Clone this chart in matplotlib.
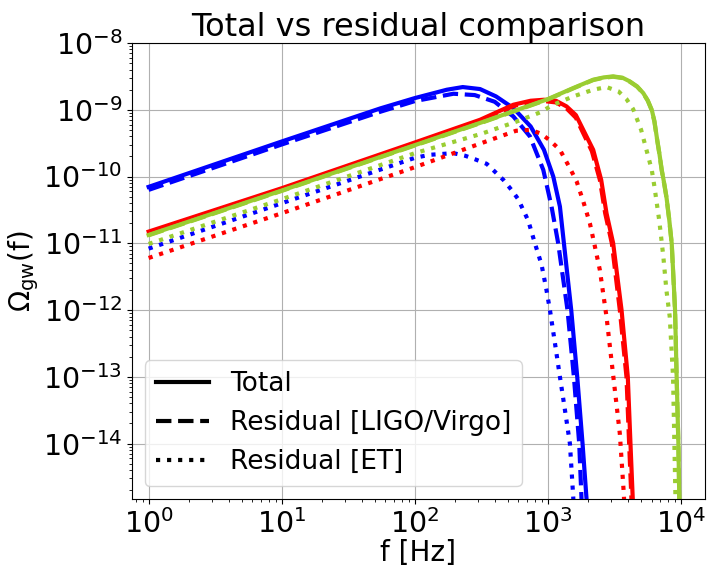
import matplotlib
matplotlib.use("Agg")
import matplotlib.pyplot as plt
import numpy as np

# values, stored as log10(f [Hz]) and log10(Omega_gw)
blue_tot_f = [0, 1, 1.74, 2.0, 2.24, 2.36, 2.49, 2.61, 2.74, 2.87, 2.97, 3.04, 3.09, 3.12, 3.175, 3.22, 3.26, 3.29, 3.30]
blue_tot_o = [-10.155, -9.475, -8.98, -8.825, -8.70, -8.66, -8.69, -8.80, -8.975, -9.25, -9.60, -10.0, -10.45, -11.0, -12.0, -13.0, -14.0, -14.83, -15.3]

blue_lv_f = [0, 1, 1.74, 2.0, 2.29, 2.45, 2.60, 2.74, 2.865, 2.965, 3.027, 3.077, 3.147, 3.195, 3.235, 3.26]
blue_lv_o = [-10.20, -9.52, -9.03, -8.87, -8.76, -8.78, -8.88, -9.10, -9.40, -9.90, -10.45, -11.0, -12.0, -13.0, -14.0, -15.2]

blue_et_f = [0, 1, 2, 2.11, 2.29, 2.38, 2.45, 2.54, 2.60, 2.665, 2.726, 2.777, 2.814, 2.852, 2.902, 2.952, 2.989, 3.015, 3.053, 3.09, 3.128, 3.165, 3.19, 3.20]
blue_et_o = [-11.08, -10.40, -9.72, -9.675, -9.65, -9.69, -9.74, -9.81, -9.925, -10.05, -10.2, -10.34, -10.5, -10.66, -11.0, -11.32, -11.70, -12.0, -12.5, -13.0, -13.5, -14.0, -14.8, -15.2]

red_tot_f = [0, 1, 2, 2.49, 2.74, 2.87, 2.97, 3.06, 3.14, 3.21, 3.265, 3.34, 3.40, 3.44, 3.49, 3.553, 3.60, 3.62, 3.645]
red_tot_o = [-10.825, -10.175, -9.49, -9.15, -8.925, -8.865, -8.85, -8.865, -8.95, -9.08, -9.30, -9.60, -10.05, -10.55, -11.0, -12.0, -13.0, -14.0, -15.2]

red_lv_f = [0, 1, 2, 2.49, 2.74, 2.87, 2.97, 3.06, 3.14, 3.21, 3.26, 3.33, 3.39, 3.43, 3.48, 3.54, 3.59, 3.61, 3.635]
red_lv_o = [-10.84, -10.19, -9.51, -9.17, -8.945, -8.885, -8.87, -8.89, -8.98, -9.12, -9.33, -9.62, -10.05, -10.55, -11.0, -12.0, -13.0, -14.0, -15.2]

red_et_f = [0, 1, 2, 2.5, 2.76, 2.87, 2.95, 3.015, 3.09, 3.165, 3.215, 3.265, 3.315, 3.353, 3.39, 3.44, 3.50, 3.54, 3.57, 3.58]
red_et_o = [-11.22, -10.55, -9.86, -9.50, -9.315, -9.30, -9.36, -9.46, -9.60, -9.875, -10.07, -10.37, -10.70, -11.05, -11.40, -12.1, -13.15, -13.85, -14.75, -15.2]

green_tot_f = [0, 1, 2, 2.5, 3.0, 3.19, 3.34, 3.42, 3.49, 3.56, 3.615, 3.67, 3.716, 3.75, 3.78, 3.80, 3.817, 3.837, 3.855, 3.875, 3.89, 3.91, 3.93, 3.955, 3.967, 3.98, 3.99]
green_tot_o = [-10.875, -10.21, -9.53, -9.19, -8.84, -8.675, -8.55, -8.515, -8.50, -8.52, -8.575, -8.65, -8.75, -8.86, -9.0, -9.17, -9.40, -9.65, -9.90, -10.12, -10.30, -10.62, -11.0, -12.0, -13.0, -14.0, -15.2]

green_lv_f = [0, 1, 2, 2.5, 3.0, 3.19, 3.34, 3.42, 3.49, 3.56, 3.615, 3.67, 3.716, 3.75, 3.78, 3.80, 3.817, 3.837, 3.855, 3.875, 3.89, 3.91, 3.93, 3.955, 3.967, 3.98, 3.99]
green_lv_o = [-10.88, -10.215, -9.535, -9.195, -8.845, -8.68, -8.555, -8.52, -8.505, -8.525, -8.58, -8.655, -8.755, -8.865, -9.01, -9.18, -9.41, -9.66, -9.91, -10.13, -10.31, -10.63, -11.01, -12.01, -13.01, -14.01, -15.2]

green_et_f = [0, 1, 2, 2.5, 2.76, 2.94, 3.04, 3.19, 3.34, 3.44, 3.53, 3.59, 3.64, 3.70, 3.74, 3.78, 3.80, 3.837, 3.867, 3.89, 3.915, 3.94, 3.95, 3.96]
green_et_o = [-11.01, -10.34, -9.65, -9.36, -9.18, -9.04, -8.925, -8.80, -8.70, -8.66, -8.725, -8.84, -8.99, -9.30, -9.60, -9.90, -10.15, -10.67, -11.2, -11.7, -12.1, -13.0, -14.0, -15.0]

curves = [
    ("blue", blue_tot_f, blue_tot_o, blue_lv_f, blue_lv_o, blue_et_f, blue_et_o),
    ("red", red_tot_f, red_tot_o, red_lv_f, red_lv_o, red_et_f, red_et_o),
    ("yellowgreen", green_tot_f, green_tot_o, green_lv_f, green_lv_o, green_et_f, green_et_o),
]

fig = plt.figure(figsize=(7.08, 5.70), dpi=100)
ax = fig.add_axes([132/708, 1 - 499/570, (705 - 132)/708, (499 - 43)/570])

for c, tf, to, lf, lo, ef, eo in curves:
    ax.plot(10**np.array(tf), 10**np.array(to), color=c, ls='-', lw=3)
    ax.plot(10**np.array(lf), 10**np.array(lo), color=c, ls='--', lw=3)
    ax.plot(10**np.array(ef), 10**np.array(eo), color=c, ls=':', lw=3)

ax.set_xscale('log')
ax.set_yscale('log')
ax.set_xlim(10**-0.125, 10**4.18)
ax.set_ylim(10**-14.83, 1e-8)
ax.grid(True)

# legend with black handles
ax.plot([], [], 'k-', lw=3, label='Total')
ax.plot([], [], 'k--', lw=3, label='Residual [LIGO/Virgo]')
ax.plot([], [], 'k:', lw=3, label='Residual [ET]')
h, l = ax.get_legend_handles_labels()
ax.legend(h[-3:], l[-3:], loc='lower left', fontsize=19)

ax.set_title('Total vs residual comparison', fontsize=23, pad=4)
ax.set_xlabel('f [Hz]', fontsize=20, labelpad=0)
ax.set_ylabel(r'$\Omega_{\rm gw}$(f)', fontsize=20)
ax.yaxis.set_label_coords(-0.158, 0.5)
ax.tick_params(labelsize=20.5)

fig.savefig('out.png', dpi=100)
